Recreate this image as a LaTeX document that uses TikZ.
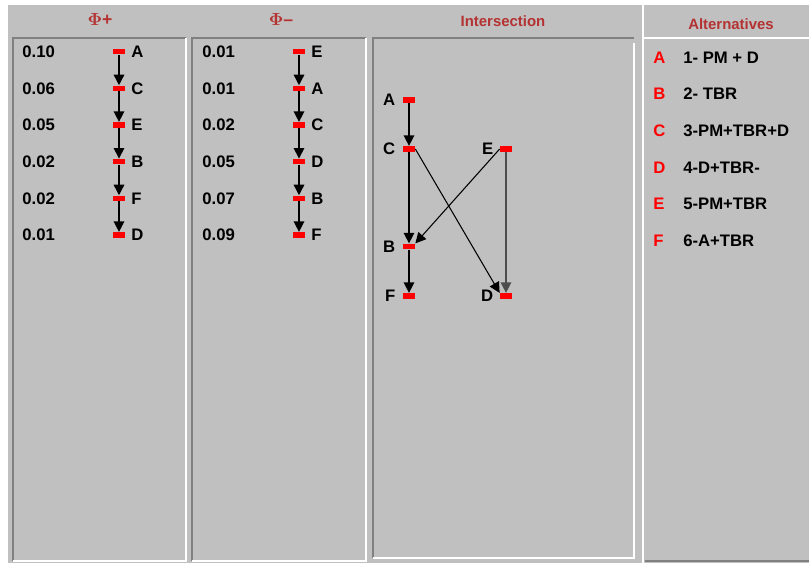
\documentclass[tikz,border=0pt]{standalone}
\usepackage{fontspec}
\setmainfont{Liberation Sans}
\usetikzlibrary{arrows.meta}

\definecolor{panelgray}{RGB}{192,192,192}
\definecolor{shadegray}{RGB}{128,128,128}
\definecolor{titlered}{RGB}{180,50,50}

\tikzset{
    rankbox/.style={fill=red, inner sep=0pt, minimum width=0.24cm, minimum height=0.11cm},
    txt/.style={font=\fontsize{9.5}{11}\selectfont\bfseries, inner sep=0pt},
    title/.style={font=\fontsize{8.5}{10}\selectfont\bfseries, text=titlered, inner sep=0pt},
    phititle/.style={title, font=\fontsize{10}{12}\selectfont\bfseries\boldmath},
    altletter/.style={txt, text=red, anchor=west},
    flow/.style={-{Triangle[width=6pt,length=6pt]}, thick},
    thinflow/.style={-{Triangle[width=6pt,length=6pt]}, semithick},
    shade/.style={shadegray, line width=1.2pt},
    light/.style={white, line width=1.2pt}
}

\begin{document}
\begin{tikzpicture}[x=0.02cm, y=-0.02cm]
    \useasboundingbox (0,0) rectangle (809,563);
    \fill[white] (0,0) rectangle (809,563);
    \fill[panelgray] (8,5) rectangle (809,563);

    % panel frames
    \draw[shade] (13,561) -- (13,38) -- (186,38);
    \draw[light] (186,38) -- (186,561) -- (13,561);
    \draw[shade] (192,561) -- (192,38) -- (366,38);
    \draw[light] (366,38) -- (366,561) -- (192,561);
    \draw[shade] (373,558) -- (373,38) -- (634,38);
    \draw[light] (634,43) -- (634,558) -- (373,558);
    \draw[light] (643,5) -- (643,563);
    \draw[light] (643,38) -- (809,38);
    \draw[shade] (645,561) -- (809,561);

    % titles
    \node[phititle] (tplus) at (100,19) {$\Phi$+};
    \node[phititle] (tminus) at (281,19) {$\Phi$--};
    \node[title] (tinter) at (503,21) {Intersection};
    \node[title] (talt) at (731,24) {Alternatives};

    % Phi+ ranking
    \foreach \name/\val [count=\i] in {A/0.10, C/0.06, E/0.05, B/0.02, F/0.02, D/0.01} {
        \node[rankbox] (p\i) at (119,15+36.67*\i) {};
        \node[txt, anchor=west] (pv\i) at (22,15+36.67*\i) {\val};
        \node[txt, anchor=west] (pl\i) at (131,15+36.67*\i) {\name};
    }
    \foreach \i [evaluate=\i as \j using int(\i+1)] in {1,...,5}
        \draw[flow] (p\i) -- (p\j.north);

    % Phi- ranking
    \foreach \name/\val [count=\i] in {E/0.01, A/0.01, C/0.02, D/0.05, B/0.07, F/0.09} {
        \node[rankbox] (m\i) at (299,15+36.67*\i) {};
        \node[txt, anchor=west] (mv\i) at (202,15+36.67*\i) {\val};
        \node[txt, anchor=west] (ml\i) at (311,15+36.67*\i) {\name};
    }
    \foreach \i [evaluate=\i as \j using int(\i+1)] in {1,...,5}
        \draw[flow] (m\i) -- (m\j.north);

    % intersection
    \node[rankbox] (iA) at (409,100) {};
    \node[rankbox] (iC) at (409,149) {};
    \node[rankbox] (iE) at (506,149) {};
    \node[rankbox] (iB) at (409,246.5) {};
    \node[rankbox] (iF) at (409,296) {};
    \node[rankbox] (iD) at (506,296) {};
    \foreach \n in {A,C,B,F}
        \node[txt, anchor=east] (il\n) at ([xshift=-0.14cm]i\n.west) {\n};
    \foreach \n in {E,D}
        \node[txt, anchor=east] (il\n) at ([xshift=-0.12cm]i\n.west) {\n};
    \draw[flow] (iA) -- (iC.north);
    \draw[flow] (iC) -- (iB.north);
    \draw[flow] (iB) -- (iF.north);
    \draw[flow, shadegray!60!black] (iE) -- (iD.north);
    \draw[thinflow] (iC.east) -- (iD.north west);
    \draw[thinflow] (iE.west) -- (iB.north east);

    % alternatives
    \foreach \name/\desc [count=\i] in {A/1- PM + D, B/2- TBR, C/3-PM+TBR+D, D/4-D+TBR-, E/5-PM+TBR, F/6-A+TBR} {
        \node[altletter] (al\i) at (653,20.6+36.67*\i) {\name};
        \node[txt, anchor=west] (ad\i) at (683,20.6+36.67*\i) {\desc};
    }
\end{tikzpicture}
\end{document}
